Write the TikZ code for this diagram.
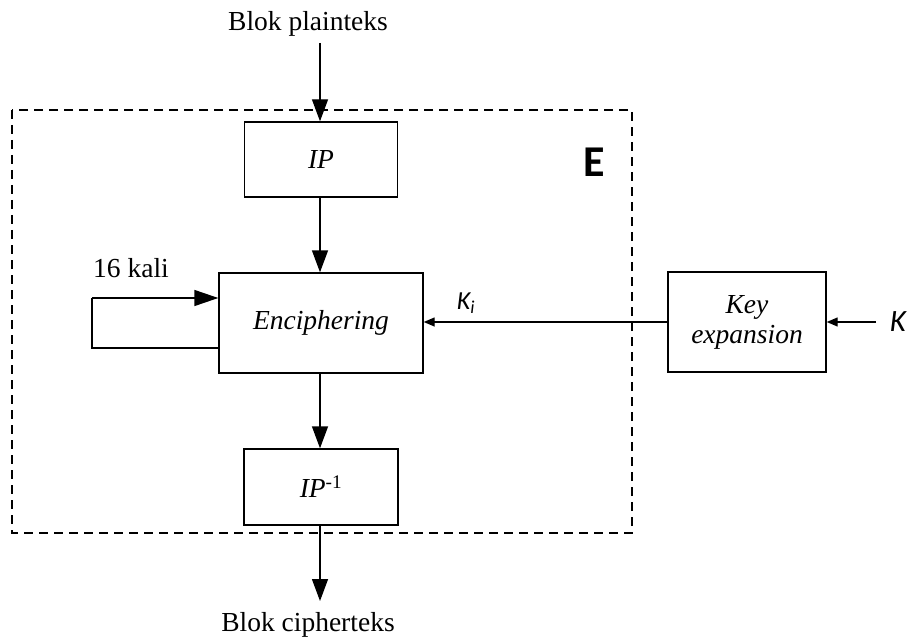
\documentclass[tikz,border=0pt]{standalone}
\usepackage{fontspec}
\setmainfont{Liberation Serif}
\newfontfamily\calfont{Carlito}
\usetikzlibrary{arrows.meta}
\begin{document}
\begin{tikzpicture}[x=1pt,y=-1pt,
  blk/.style={draw,line width=1.4pt,inner sep=0pt,font=\fontsize{27.5}{32}\selectfont\itshape,align=center},
  lbl/.style={inner sep=0pt,font=\fontsize{27.5}{32}\selectfont},
  bigarr/.style={line width=1.4pt,-{Triangle[width=16pt,length=22pt]}},
  loparr/.style={line width=1.4pt,-{Triangle[width=16pt,length=24pt]}},
  smarr/.style={line width=1.4pt,-{Triangle[width=9pt,length=11pt]}},
  dashbox/.style={draw,line width=1.4pt,dash pattern=on 9pt off 6pt}]
\useasboundingbox (0,0) rectangle (909,644);
\draw[dashbox] (12,110) rectangle (632,533);
\node[blk,minimum width=153pt,minimum height=75pt] (ip) at (321,159.5) {IP};
\node[blk,minimum width=204pt,minimum height=100pt] (enc) at (321,323) {\raisebox{-3pt}{Enciphering}};
\node[blk,minimum width=154pt,minimum height=76pt] (ipinv) at (321,487) {IP\textsuperscript{\upshape -1}};
\node[blk,minimum width=158pt,minimum height=100pt] (key) at (747,322) {\raisebox{-4pt}{\shortstack{Key\\[3pt]expansion}}};
\node[lbl] (tin) at (308,24) {Blok plainteks};
\node[lbl] (tout) at (308,625) {Blok cipherteks};
\node[lbl] (loop) at (131,268) {16 kali};
\node[inner sep=0pt,font=\fontsize{44}{50}\calfont\bfseries] (E) at (594,162) {E};
\node[inner sep=0pt,font=\fontsize{26}{30}\calfont\itshape] (ki) at (466,303) {K\textsubscript{\upshape\itshape i}};
\node[inner sep=0pt,font=\fontsize{31}{36}\calfont\itshape] (kk) at (898,322) {K};
\coordinate (pin) at (320,43);
\coordinate (pout) at (320,601);
\coordinate (kin) at (876,322);
\coordinate (l1) at (92,348);
\coordinate (l2) at (92,298);
\draw[bigarr] (pin) -- (pin |- ip.north);
\draw[bigarr] (ip.south -| pin) -- (pin |- enc.north);
\draw[bigarr] (enc.south -| pin) -- (pin |- ipinv.north);
\draw[bigarr] (ipinv.south -| pin) -- (pout);
\draw[line width=1.4pt] (enc.west |- l1) -- (l1) -- (l2);
\draw[loparr] (l2) -- (enc.west |- l2);
\draw[smarr] (key.west) -- (enc.east |- key.west);
\draw[smarr] (kin) -- (key.east);
\end{tikzpicture}
\end{document}
